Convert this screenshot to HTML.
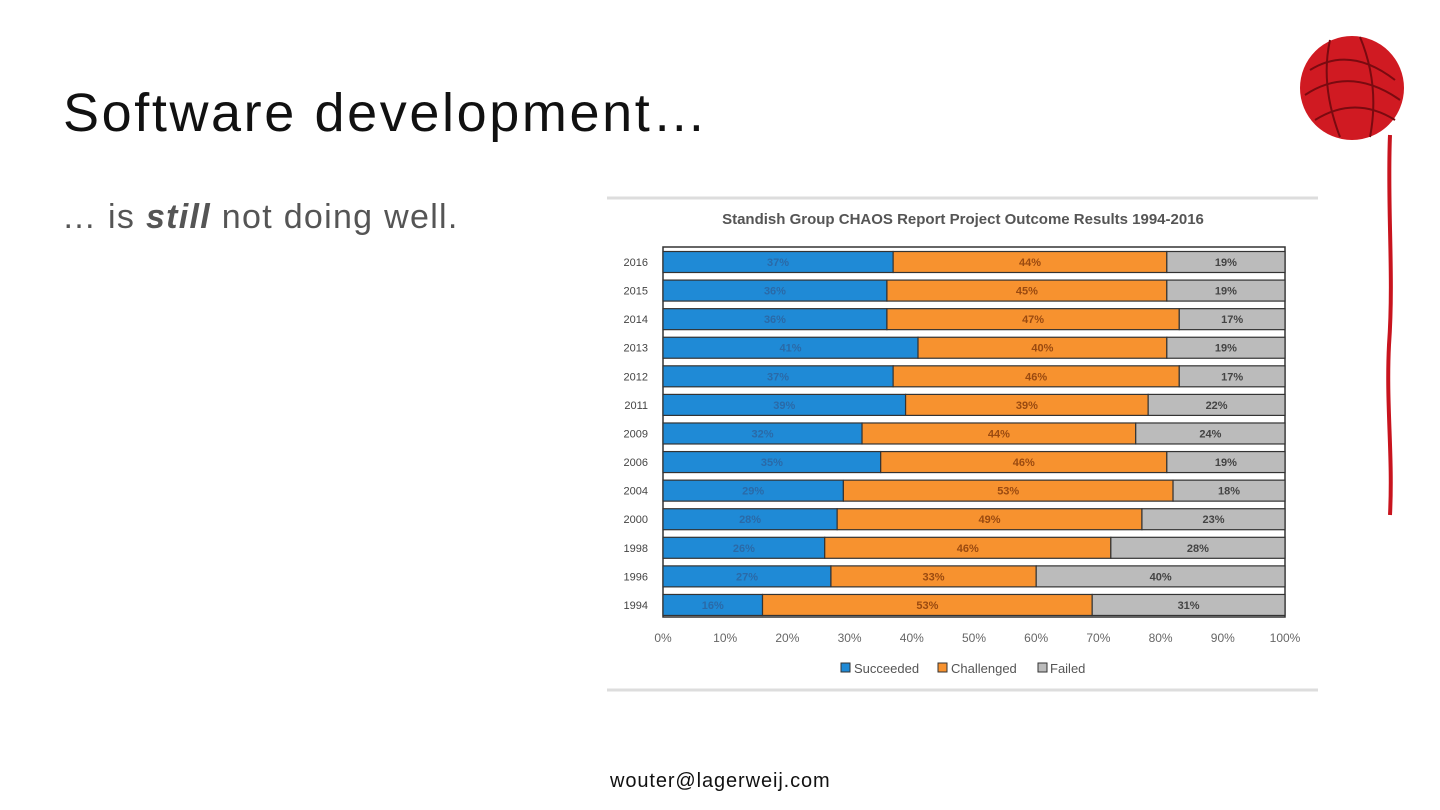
<!DOCTYPE html>
<html><head><meta charset="utf-8"><style>
body{margin:0;width:1440px;height:810px;background:#fff;position:relative;overflow:hidden;font-family:"Liberation Sans",sans-serif}
.t{position:absolute}
</style></head><body>
<div class="t" style="left:63px;top:82px;font-size:54px;color:#111;letter-spacing:2.6px">Software development…</div>
<div class="t" style="left:62px;top:198px;font-size:34px;color:#555;letter-spacing:1.3px">… is <b><i>still</i></b> not doing well.</div>
<div class="t" style="left:610px;top:770px;font-size:20px;color:#111;letter-spacing:0.9px">wouter@lagerweij.com</div>
<svg class="t" style="left:1290px;top:25px" width="130" height="500">
<path d="M100,110 C97,180 104,250 99,320 C96,380 103,430 100,490" stroke="#c8141e" stroke-width="4" fill="none"/>
<circle cx="62" cy="63" r="52" fill="#d01a22"/>
<g stroke="#7a0a10" stroke-width="2" fill="none">
<path d="M20,45 Q60,20 105,55"/><path d="M15,70 Q60,40 110,75"/><path d="M25,95 Q65,70 105,95"/><path d="M40,15 Q30,60 50,112"/><path d="M70,12 Q90,60 80,112"/></g>
</svg>
<svg class="t" style="left:0;top:0" width="1440" height="810" id="chart">
<line x1="607" y1="198" x2="1318" y2="198" stroke="#ddd" stroke-width="3"/>
<line x1="607" y1="690" x2="1318" y2="690" stroke="#ddd" stroke-width="3"/>
<text x="963" y="224" text-anchor="middle" font-size="15" font-weight="bold" fill="#555">Standish Group CHAOS Report Project Outcome Results 1994-2016</text>
<rect x="663" y="247" width="622" height="370" fill="#fff" stroke="#333" stroke-width="1.5"/>
<g id="bars"></g>
<g id="axis"></g>
<g font-size="13" fill="#555">
<rect x="841" y="663" width="9" height="9" fill="#1f8ad6" stroke="#333"/><text x="854" y="673">Succeeded</text>
<rect x="938" y="663" width="9" height="9" fill="#f7922f" stroke="#333"/><text x="951" y="673">Challenged</text>
<rect x="1038" y="663" width="9" height="9" fill="#bbb" stroke="#333"/><text x="1050" y="673">Failed</text>
</g>
</svg>
<script>
const years=["2016","2015","2014","2013","2012","2011","2009","2006","2004","2000","1998","1996","1994"];
const succeeded=[37,36,36,41,37,39,32,35,29,28,26,27,16];
const challenged=[44,45,47,40,46,39,44,46,53,49,46,33,53];
const failed=[19,19,17,19,17,22,24,19,18,23,28,40,31];
const ticks=[0,10,20,30,40,50,60,70,80,90,100];
const x0=663,x1=1285,yTop=262,step=28.58,bh=21;
const xs=v=>x0+(x1-x0)*v/100, ys=i=>yTop+i*step;
const ns="http://www.w3.org/2000/svg";
const g=document.getElementById('bars'),ga=document.getElementById('axis');
function mk(tag,attrs,par){const e=document.createElementNS(ns,tag);for(const k in attrs)e.setAttribute(k,attrs[k]);par.appendChild(e);return e;}
const cols=["#1f8ad6","#f7922f","#bbbbbb"],tcol=["#2a6aa8","#9a4a10","#444"],names=["succeeded","challenged","failed"];
years.forEach((y,i)=>{
 const vals=[succeeded[i],challenged[i],failed[i]];let acc=0;const cy=ys(i);
 const l=mk('text',{x:648,y:cy+4,'text-anchor':'end','font-size':11,fill:'#444'},ga);l.textContent=y;
 
 
 vals.forEach((v,k)=>{
  const r=mk('rect',{x:xs(acc),y:cy-bh/2,width:xs(acc+v)-xs(acc),height:bh,fill:cols[k],stroke:'#333','stroke-width':1.2},g);
  
  
  const t=mk('text',{x:(xs(acc)+xs(acc+v))/2,y:cy+4,'text-anchor':'middle','font-size':11,'font-weight':'bold',fill:tcol[k]},g);t.textContent=v+'%';
  
  
  acc+=v;});
});
ticks.forEach(v=>{const t=mk('text',{x:xs(v),y:642,'text-anchor':'middle','font-size':12,fill:'#666'},ga);t.textContent=v+'%';
 
 });
</script>
</body></html>
